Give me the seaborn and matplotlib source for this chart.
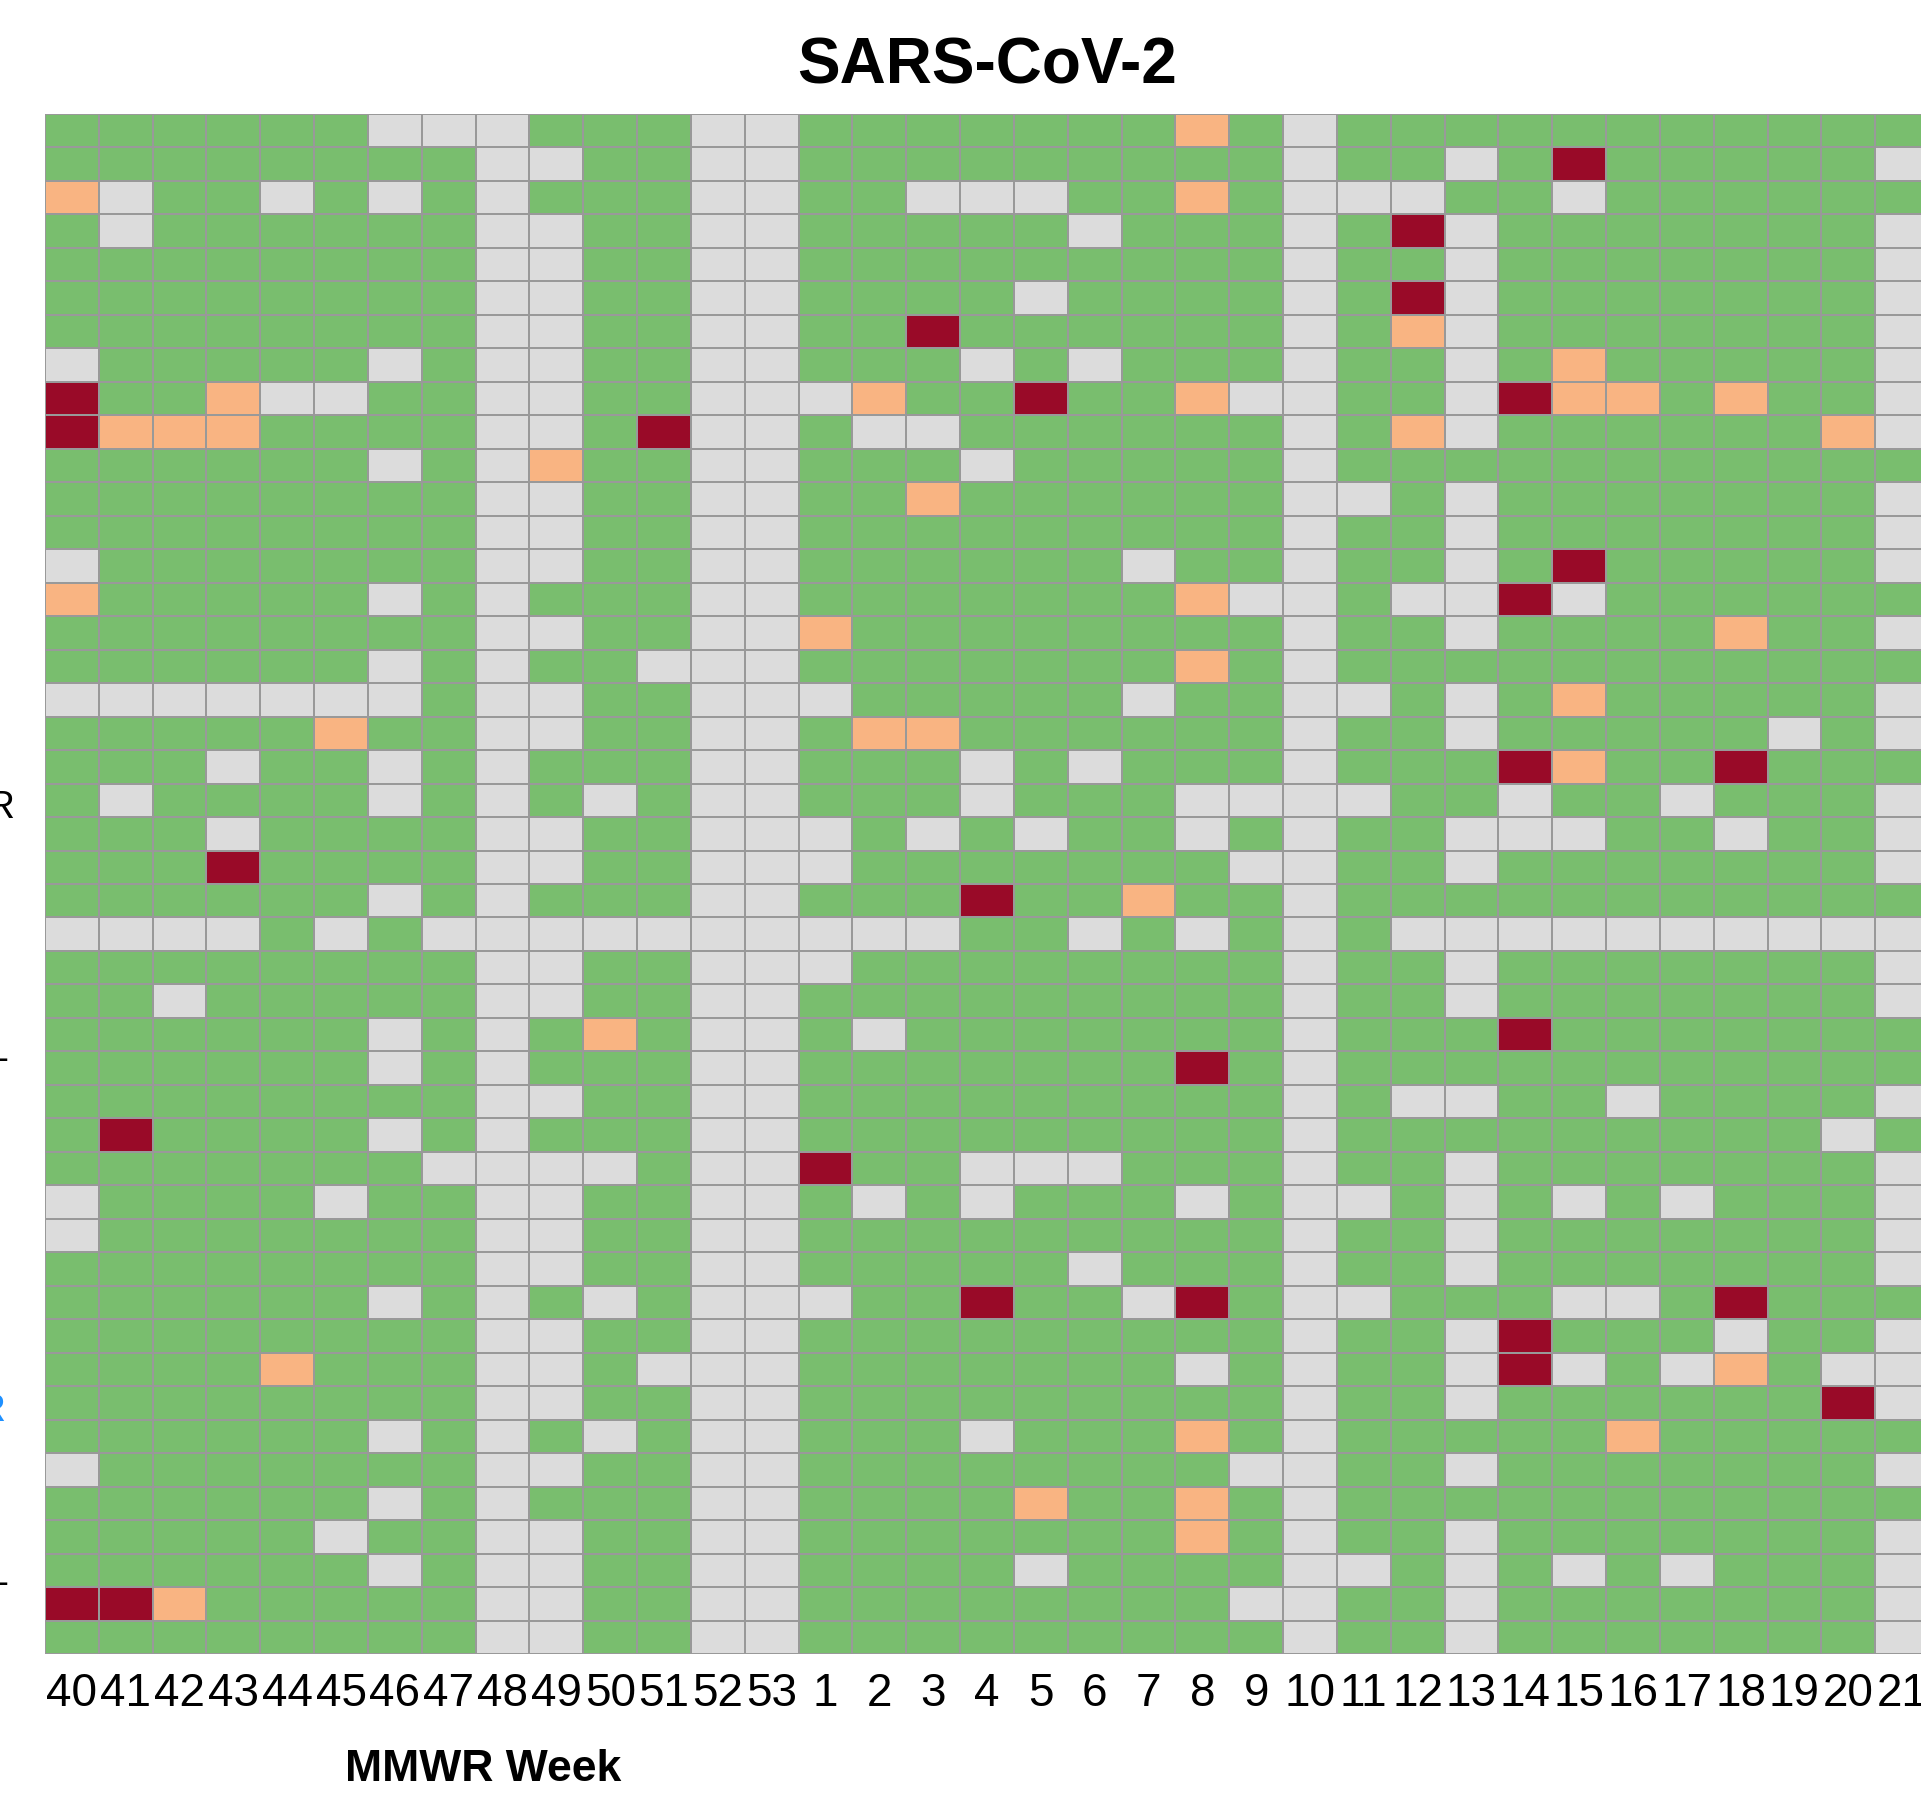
import matplotlib
matplotlib.use('Agg')
import numpy as np
import pandas as pd
import matplotlib.pyplot as plt
import seaborn as sns
from matplotlib.colors import ListedColormap

# MMWR weeks shown on the x axis
weeks = list(range(40, 54)) + list(range(1, 22))

# one string per row, one letter per week:
# G = green, N = grey (no data), O = orange, R = dark red
status_rows = [
    "GGGGGGNNNGGGNNGGGGGGGOGNGGGGGGGGGGG",
    "GGGGGGGGNNGGNNGGGGGGGGGNGGNGRGGGGGN",
    "ONGGNGNGNGGGNNGGNNNGGOGNNNGGNGGGGGG",
    "GNGGGGGGNNGGNNGGGGGNGGGNGRNGGGGGGGN",
    "GGGGGGGGNNGGNNGGGGGGGGGNGGNGGGGGGGN",
    "GGGGGGGGNNGGNNGGGGNGGGGNGRNGGGGGGGN",
    "GGGGGGGGNNGGNNGGRGGGGGGNGONGGGGGGGN",
    "NGGGGGNGNNGGNNGGGNGNGGGNGGNGOGGGGGN",
    "RGGONNGGNNGGNNNOGGRGGONNGGNROOGOGGN",
    "ROOOGGGGNNGRNNGNNGGGGGGNGONGGGGGGON",
    "GGGGGGNGNOGGNNGGGNGGGGGNGGGGGGGGGGG",
    "GGGGGGGGNNGGNNGGOGGGGGGNNGNGGGGGGGN",
    "GGGGGGGGNNGGNNGGGGGGGGGNGGNGGGGGGGN",
    "NGGGGGGGNNGGNNGGGGGGNGGNGGNGRGGGGGN",
    "OGGGGGNGNGGGNNGGGGGGGONNGNNRNGGGGGG",
    "GGGGGGGGNNGGNNOGGGGGGGGNGGNGGGGOGGN",
    "GGGGGGNGNGGNNNGGGGGGGOGNGGGGGGGGGGG",
    "NNNNNNNGNNGGNNNGGGGGNGGNNGNGOGGGGGN",
    "GGGGGOGGNNGGNNGOOGGGGGGNGGNGGGGGNGN",
    "GGGNGGNGNGGGNNGGGNGNGGGNGGGROGGRGGG",
    "GNGGGGNGNGNGNNGGGNGGGNNNNGGNGGNGGGN",
    "GGGNGGGGNNGGNNNGNGNGGNGNGGNNNGGNGGN",
    "GGGRGGGGNNGGNNNGGGGGGGNNGGNGGGGGGGN",
    "GGGGGGNGNGGGNNGGGRGGOGGNGGGGGGGGGGG",
    "NNNNGNGNNNNNNNNNNGGNGNGNGNNNNNNNNNN",
    "GGGGGGGGNNGGNNNGGGGGGGGNGGNGGGGGGGN",
    "GGNGGGGGNNGGNNGGGGGGGGGNGGNGGGGGGGN",
    "GGGGGGNGNGOGNNGNGGGGGGGNGGGRGGGGGGG",
    "GGGGGGNGNGGGNNGGGGGGGRGNGGGGGGGGGGG",
    "GGGGGGGGNNGGNNGGGGGGGGGNGNNGGNGGGGN",
    "GRGGGGNGNGGGNNGGGGGGGGGNGGGGGGGGGNG",
    "GGGGGGGNNNNGNNRGGNNNGGGNGGNGGGGGGGN",
    "NGGGGNGGNNGGNNGNGNGGGNGNNGNGNGNGGGN",
    "NGGGGGGGNNGGNNGGGGGGGGGNGGNGGGGGGGN",
    "GGGGGGGGNNGGNNGGGGGNGGGNGGNGGGGGGGN",
    "GGGGGGNGNGNGNNNGGRGGNRGNNGGGNNGRGGG",
    "GGGGGGGGNNGGNNGGGGGGGGGNGGNRGGGNGGN",
    "GGGGOGGGNNGNNNGGGGGGGNGNGGNRNGNOGNN",
    "GGGGGGGGNNGGNNGGGGGGGGGNGGNGGGGGGRN",
    "GGGGGGNGNGNGNNGGGNGGGOGNGGGGGOGGGGG",
    "NGGGGGGGNNGGNNGGGGGGGGNNGGNGGGGGGGN",
    "GGGGGGNGNGGGNNGGGGOGGOGNGGGGGGGGGGG",
    "GGGGGNGGNNGGNNGGGGGGGOGNGGNGGGGGGGN",
    "GGGGGGNGNNGGNNGGGGNGGGGNNGNGNGNGGGN",
    "RROGGGGGNNGGNNGGGGGGGGNNGGNGGGGGGGN",
    "GGGGGGGGNNGGNNGGGGGGGGGNGGNGGGGGGGN",
]

level_codes = {"G": 0, "N": 1, "O": 2, "R": 3}
level_colors = ["#79BE6E", "#DCDCDC", "#F9B482", "#990A28"]

grid = pd.DataFrame([[level_codes[c] for c in row] for row in status_rows],
                    columns=weeks)

sns.set_theme(style="white")
plt.rcParams['font.family'] = ['Liberation Sans', 'DejaVu Sans']
plt.rcParams['text.color'] = 'black'
plt.rcParams['xtick.color'] = 'black'
plt.rcParams['axes.labelcolor'] = 'black'

W, H = 1921, 1800
fig = plt.figure(figsize=(W / 100, H / 100), dpi=100)
# grid runs slightly past the right edge, as in the cropped original
ax = fig.add_axes([45 / W, (H - 1654) / H, 1884 / W, 1540 / H])

sns.heatmap(grid, ax=ax, cmap=ListedColormap(level_colors), vmin=-0.5, vmax=3.5,
            cbar=False, linewidths=1.2, linecolor="#999999",
            xticklabels=[str(w) for w in weeks], yticklabels=False)

ax.tick_params(axis='x', length=0, pad=13, labelsize=33, rotation=0, labelcolor='black')
ax.set_title("SARS-CoV-2", fontsize=46, fontweight='bold', pad=22, color='black')
ax.set_xlabel("MMWR Week", fontsize=32, fontweight='bold', color='black')
ax.xaxis.set_label_coords(0.2325, -0.0617)
ax.set_ylabel("")

# fragments of the row labels that are cut off at the left edge
fig.text(16 / W, 1 - 808 / H, "AR", ha='right', va='center', fontsize=28, color='black')
fig.text(8 / W, 1 - 1060 / H, "-", ha='right', va='center', fontsize=28, color='black')
fig.text(7 / W, 1 - 1411 / H, "AR", ha='right', va='center', fontsize=28, color="#1E90FF")
fig.text(8 / W, 1 - 1584 / H, "-", ha='right', va='center', fontsize=28, color='black')

fig.savefig("out.png", dpi=100)
plt.close(fig)
